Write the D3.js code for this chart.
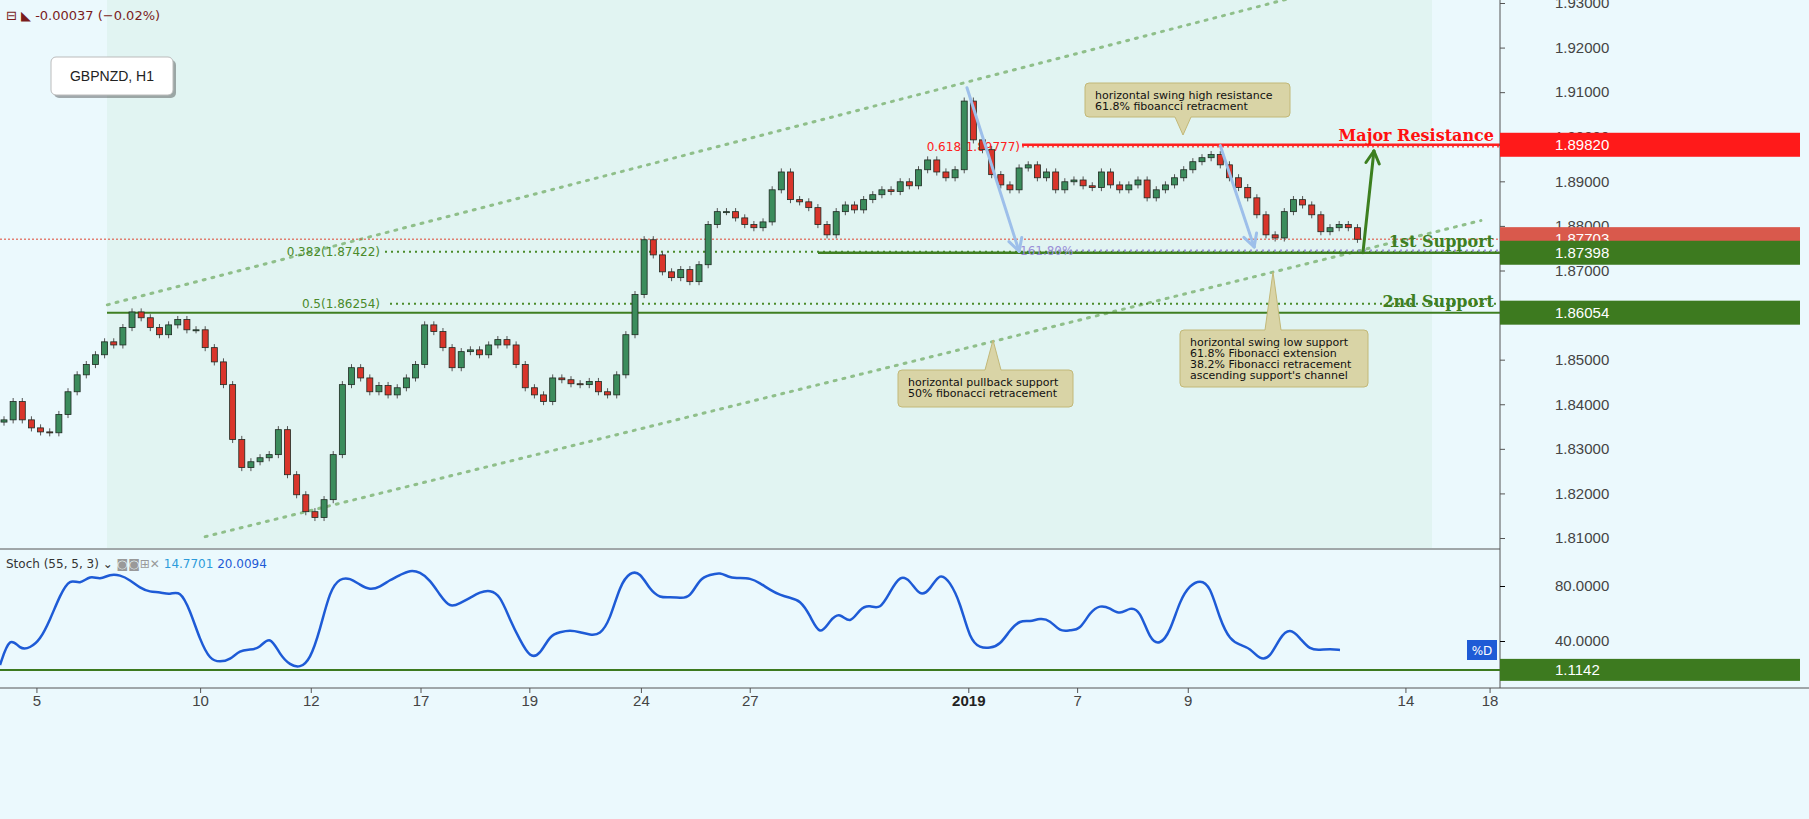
<!DOCTYPE html>
<html><head><meta charset="utf-8">
<script src="https://cdn.jsdelivr.net/npm/d3@7"></script>
<style>body{margin:0;background:#fff}svg{display:block;font-family:"DejaVu Sans",sans-serif}</style>
</head><body><svg id="c" width="1809" height="819"></svg>
<script>
const closes=[1.8365,1.8406,1.8365,1.8347,1.8338,1.8336,1.8377,1.8428,1.8466,1.8489,1.8511,1.8540,1.8533,1.8572,1.8607,1.8594,1.8572,1.8556,1.8578,1.8590,1.8567,1.8567,1.8527,1.8495,1.8444,1.8321,1.8258,1.8271,1.8280,1.8287,1.8343,1.8242,1.8197,1.8159,1.8146,1.8186,1.8287,1.8444,1.8482,1.8459,1.8428,1.8442,1.8421,1.8437,1.8459,1.8489,1.8578,1.8563,1.8527,1.8482,1.8518,1.8522,1.8511,1.8533,1.8545,1.8533,1.8489,1.8437,1.8421,1.8406,1.8459,1.8455,1.8446,1.8444,1.8451,1.8428,1.8421,1.8466,1.8556,1.8646,1.8769,1.8735,1.8697,1.8684,1.8702,1.8675,1.8713,1.8803,1.8832,1.8832,1.8818,1.8803,1.8796,1.8809,1.8881,1.8921,1.8859,1.8854,1.8841,1.8803,1.8780,1.8832,1.8847,1.8836,1.8859,1.8870,1.8881,1.8877,1.8899,1.8890,1.8926,1.8948,1.8921,1.8908,1.8926,1.9080,1.8993,1.8971,1.8915,1.8892,1.8881,1.8930,1.8937,1.8908,1.8921,1.8881,1.8899,1.8903,1.8890,1.8886,1.8921,1.8892,1.8881,1.8892,1.8903,1.8863,1.8881,1.8892,1.8908,1.8926,1.8944,1.8953,1.8960,1.8937,1.8908,1.8886,1.8863,1.8825,1.8780,1.8773,1.8832,1.8859,1.8847,1.8825,1.8787,1.8796,1.8803,1.8796,1.8770];
const stoch=[22.5,44.4,33.5,34.9,40.7,55.3,73.4,85.8,80.7,88,84.4,88.7,88,84.4,78.5,75.6,75.6,73.4,77.1,62.5,40.7,26.2,24.7,26.2,33.5,33.5,34.9,44.4,29.8,22.5,20.4,26.2,48,77.1,85.8,85.8,80.7,77.1,79.3,84.4,88,91.6,90.2,84.4,73.4,64,67.6,71.3,75.6,77.1,73.4,55.3,40.7,27.6,29.8,44.4,46.5,48,46.5,44.4,44.4,55.3,80.7,90.2,90.2,77.1,71.3,72,71.3,71.3,85.8,88,90.2,85.8,85.8,85.8,82.2,77.1,73.4,71.3,69.8,58.9,42.9,55.3,61.1,51.6,64,66.2,62.5,75.6,88,84.4,72,77.1,90.2,82.9,68.4,40.7,34.9,34.9,37.1,48,55.3,53.8,56.7,55.3,46.5,48,48,61.1,66.2,64,58.9,64.7,62.5,40.7,37.1,46.5,69.8,80.7,84.4,80.7,55.3,40.7,37.1,34.9,26.2,27.6,42.9,49.5,42.2,33.5,33.5,34.2,33.5];
const priceTicks=[1.81,1.82,1.83,1.84,1.85,1.86,1.87,1.88,1.89,1.90,1.91,1.92,1.93];
const stochTicks=[40,80];
const dateTickIdx=[3.6,21.5,33.6,45.6,57.5,69.7,81.6,105.5,117.4,129.5,153.3,162.5];
const dateTickLabels=["5","10","12","17","19","24","27","2019","7","9","14","18"];
const levels={res:1.89820,fib618:1.89777,last:1.87703,s1:1.87398,fib382:1.87422,fib50:1.86254,s2:1.86054,ext:1.8745};

const svg=d3.select("#c");
const W=1809,axisX=1500,mainTop=0,mainBot=548,stTop=549,stBot=688;
svg.append("rect").attr("width",W).attr("height",819).attr("fill","#ebf9fd");
const x=d3.scaleLinear().domain([0,148]).range([4,4+148*9.145]);
const y=d3.scaleLinear().domain([1.81,1.93]).range([538,3]);
const ys=d3.scaleLinear().domain([40,80]).range([641,586]);
const xs=d3.scaleLinear().domain([0,135]).range([0,1350]);
const main=svg.append("g");
main.append("defs").append("clipPath").attr("id","mc").append("rect").attr("width",axisX).attr("height",mainBot);
const g=main.append("g").attr("clip-path","url(#mc)");
// channel shading
g.append("rect").attr("x",107).attr("y",0).attr("width",1325).attr("height",mainBot).attr("fill","#dff2ef").attr("opacity",0.8);
// channel lines (anchored to prices)
const chU=[[11.3,1.8623],[143,1.9323]], chL=[[22,1.8103],[161.5,1.8812]];
[chU,chL].forEach(c=>g.append("line").attr("x1",x(c[0][0])).attr("y1",y(c[0][1])).attr("x2",x(c[1][0])).attr("y2",y(c[1][1])).attr("stroke","#8fbf8a").attr("stroke-width",3).attr("stroke-dasharray","2,7").attr("stroke-linecap","round"));
// horizontal levels
function hl(p,x1,col,w,dash){g.append("line").attr("x1",x1).attr("x2",axisX).attr("y1",y(p)).attr("y2",y(p)).attr("stroke",col).attr("stroke-width",w).attr("stroke-dasharray",dash||null);}
hl(levels.last,0,"#e0442f",1,"2,2");
hl(levels.fib382,385,"#4a8a2a",2,"2,4");
hl(levels.fib50,390,"#4a8a2a",2,"2,4");
hl(levels.s2,107,"#3f7f22",2);
hl(levels.s1,818,"#3f7f22",2.5);
hl(levels.ext,1058,"#9a8fd8",2,"2,4");
hl(levels.res,1022,"#ff2020",2.5);
hl(levels.fib618,1022,"#ff5050",1.5,"2,3");
const lbl=(t,xx,p,col,sz,anchor)=>g.append("text").attr("x",xx).attr("y",y(p)+4).attr("fill",col).attr("font-size",sz||12).attr("text-anchor",anchor||"start").text(t);
lbl("0.382(1.87422)",380,levels.fib382,"#4a8a2a",12,"end");
lbl("0.5(1.86254)",380,levels.fib50,"#4a8a2a",12,"end");
lbl("0.618(1.89777)",1020,levels.fib618,"#ff2020",12,"end");
lbl("161.80%",1020,levels.ext-0.0002,"#9a8fd8",12,"start");
// candles
const cand=closes.map((c,i)=>{const o=i?closes[i-1]:c-0.0005;return {i,o,c,h:Math.max(o,c)+0.0008,l:Math.min(o,c)-0.0008};});
const cg=g.append("g");
cg.selectAll("line").data(cand).join("line").attr("x1",d=>x(d.i)).attr("x2",d=>x(d.i)).attr("y1",d=>y(d.h)).attr("y2",d=>y(d.l)).attr("stroke","#555").attr("stroke-width",1);
cg.selectAll("rect").data(cand).join("rect").attr("x",d=>x(d.i)-3).attr("width",6).attr("y",d=>y(Math.max(d.o,d.c))).attr("height",d=>Math.max(1,Math.abs(y(d.o)-y(d.c)))).attr("fill",d=>d.c>=d.o?"#3b8c5c":"#d9352b").attr("stroke","#1e2a22").attr("stroke-width",0.8);
// arrows
const defs=svg.append("defs");
function arrow(x1,p1,x2,p2,col,w){const a=Math.atan2(y(p2)-y(p1),x(x2)-x(x1));const X2=x(x2),Y2=y(p2);g.append("line").attr("x1",x(x1)).attr("y1",y(p1)).attr("x2",X2).attr("y2",Y2).attr("stroke",col).attr("stroke-width",w).attr("stroke-linecap","round");
[-0.5,0.5].forEach(d=>g.append("line").attr("x1",X2).attr("y1",Y2).attr("x2",X2-14*Math.cos(a+d)).attr("y2",Y2-14*Math.sin(a+d)).attr("stroke",col).attr("stroke-width",w).attr("stroke-linecap","round"));}
arrow(105.3,1.9110,111,1.8743,"#9dbfea",3);
arrow(133,1.8980,136.7,1.8753,"#9dbfea",3);
arrow(148.6,1.8740,149.8,1.8968,"#3c7f1f",3);
// callouts
function callout(x0,y0,w,h,px,py,lines){const gg=g.append("g");
let path;
if(py<y0){path=`M${x0+4},${y0}H${px-8}L${px},${py}L${px+8},${y0}H${x0+w-4}Q${x0+w},${y0} ${x0+w},${y0+4}V${y0+h-4}Q${x0+w},${y0+h} ${x0+w-4},${y0+h}H${x0+4}Q${x0},${y0+h} ${x0},${y0+h-4}V${y0+4}Q${x0},${y0} ${x0+4},${y0}Z`;}
else{path=`M${x0+4},${y0}H${x0+w-4}Q${x0+w},${y0} ${x0+w},${y0+4}V${y0+h-4}Q${x0+w},${y0+h} ${x0+w-4},${y0+h}H${px+8}L${px},${py}L${px-8},${y0+h}H${x0+4}Q${x0},${y0+h} ${x0},${y0+h-4}V${y0+4}Q${x0},${y0} ${x0+4},${y0}Z`;}
gg.append("path").attr("d",path).attr("fill","#d9d4a6").attr("stroke","#c2b878");
lines.forEach((t,k)=>gg.append("text").attr("x",x0+10).attr("y",y0+16+k*11).attr("font-size",11).attr("fill","#111").text(t));}
callout(1085,83,205,34,1183,135,["horizontal swing high resistance","61.8% fiboancci retracment"]);
callout(898,370,175,37,993,340,["horizontal pullback support","50% fibonacci retracement"]);
callout(1180,330,188,57,1273,272,["horizontal swing low support","61.8% Fibonacci extension","38.2% Fibonacci retracement","ascending support's channel"]);
// big labels
const big=(t,p,col)=>g.append("text").attr("x",1494).attr("y",y(p)-4).attr("text-anchor","end").attr("font-family","'DejaVu Serif',serif").attr("font-weight","bold").attr("font-size",16).attr("fill",col).text(t);
big("Major Resistance",levels.res,"#ff1010");
big("1st Support",levels.s1+0.0004,"#3f7f22");
big("2nd Support",levels.s2+0.0004,"#3f7f22");
// price axis
svg.append("line").attr("x1",axisX).attr("x2",axisX).attr("y1",0).attr("y2",stBot).attr("stroke","#555");
const pa=svg.append("g").attr("transform",`translate(${axisX},0)`).call(d3.axisRight(y).tickValues(priceTicks).tickFormat(d3.format(".5f")).tickSize(5));
pa.select(".domain").remove();
pa.selectAll("text").attr("font-size",15).attr("fill","#444").attr("x",55).attr("font-family","Arial,'Liberation Sans',sans-serif");
pa.selectAll("line").attr("stroke","#555");
function tag(p,col,scale){const yy=(scale||y)(p);svg.append("rect").attr("x",axisX).attr("y",yy-12).attr("width",300).attr("height",24).attr("fill",col);
svg.append("text").attr("x",axisX+55).attr("y",yy+5).attr("fill","#fff").attr("font-size",15).attr("font-family","Arial,'Liberation Sans',sans-serif").text(p.toFixed(5));}
tag(levels.res,"#ff1a1a");tag(levels.last,"#d9594c");tag(levels.s1,"#3d7a1f");tag(levels.s2,"#3d7a1f");
// stoch pane
svg.append("line").attr("x1",0).attr("x2",axisX).attr("y1",stTop).attr("y2",stTop).attr("stroke","#555");
svg.append("line").attr("x1",0).attr("x2",W).attr("y1",stBot).attr("y2",stBot).attr("stroke","#555");
svg.append("line").attr("x1",0).attr("x2",axisX).attr("y1",ys(19)).attr("y2",ys(19)).attr("stroke","#3d7a1f").attr("stroke-width",2);
svg.append("path").datum(stoch).attr("d",d3.line().x((d,i)=>xs(i)).y(d=>ys(d)).curve(d3.curveBasis)).attr("fill","none").attr("stroke","#1e5bd6").attr("stroke-width",2.5);
const sa=svg.append("g").attr("transform",`translate(${axisX},0)`).call(d3.axisRight(ys).tickValues(stochTicks).tickFormat(d3.format(".4f")).tickSize(5));
sa.select(".domain").remove();
sa.selectAll("text").attr("font-size",15).attr("fill","#444").attr("x",55).attr("font-family","Arial,'Liberation Sans',sans-serif");
svg.append("rect").attr("x",1467).attr("y",640).attr("width",30).attr("height",20).attr("fill","#1e5bd6");
svg.append("text").attr("x",1482).attr("y",655).attr("text-anchor","middle").attr("fill","#fff").attr("font-size",12).text("%D");
svg.append("rect").attr("x",axisX).attr("y",ys(19)-11).attr("width",300).attr("height",22).attr("fill","#3d7a1f");
svg.append("text").attr("x",axisX+55).attr("y",ys(19)+5).attr("fill","#fff").attr("font-size",15).attr("font-family","Arial,'Liberation Sans',sans-serif").text("1.1142");
const st=svg.append("text").attr("x",6).attr("y",568).attr("font-size",12);
st.append("tspan").attr("fill","#333").text("Stoch (55, 5, 3) ⌄  ");
st.append("tspan").attr("fill","#999").text("◙◙⊞✕ ");
st.append("tspan").attr("fill","#2d9cdb").text("14.7701 ");
st.append("tspan").attr("fill","#1e5bd6").text(" 20.0094");
// date axis
const da=svg.append("g");
dateTickIdx.forEach((d,k)=>{da.append("line").attr("x1",x(d)).attr("x2",x(d)).attr("y1",stBot).attr("y2",stBot+5).attr("stroke","#555");
da.append("text").attr("x",x(d)).attr("y",706).attr("text-anchor","middle").attr("font-size",15).attr("fill",dateTickLabels[k]==="2019"?"#222":"#444").attr("font-weight",dateTickLabels[k]==="2019"?"bold":"normal").attr("font-family","Arial,'Liberation Sans',sans-serif").text(dateTickLabels[k]);});
// top-left header & symbol box
svg.append("text").attr("x",6).attr("y",20).attr("font-size",13).attr("fill","#7a1c1c").text("⊟  ◣ -0.00037 (−0.02%)");
svg.append("rect").attr("x",54).attr("y",60).attr("width",122).attr("height",38).attr("rx",5).attr("fill","#333").attr("opacity",0.4);
svg.append("rect").attr("x",51).attr("y",57).attr("width",122).attr("height",38).attr("rx",5).attr("fill","#fff").attr("stroke","#bbb");
svg.append("text").attr("x",112).attr("y",81).attr("text-anchor","middle").attr("font-size",14).attr("fill","#222").attr("font-family","Arial,'Liberation Sans',sans-serif").text("GBPNZD, H1");
</script></body></html>
